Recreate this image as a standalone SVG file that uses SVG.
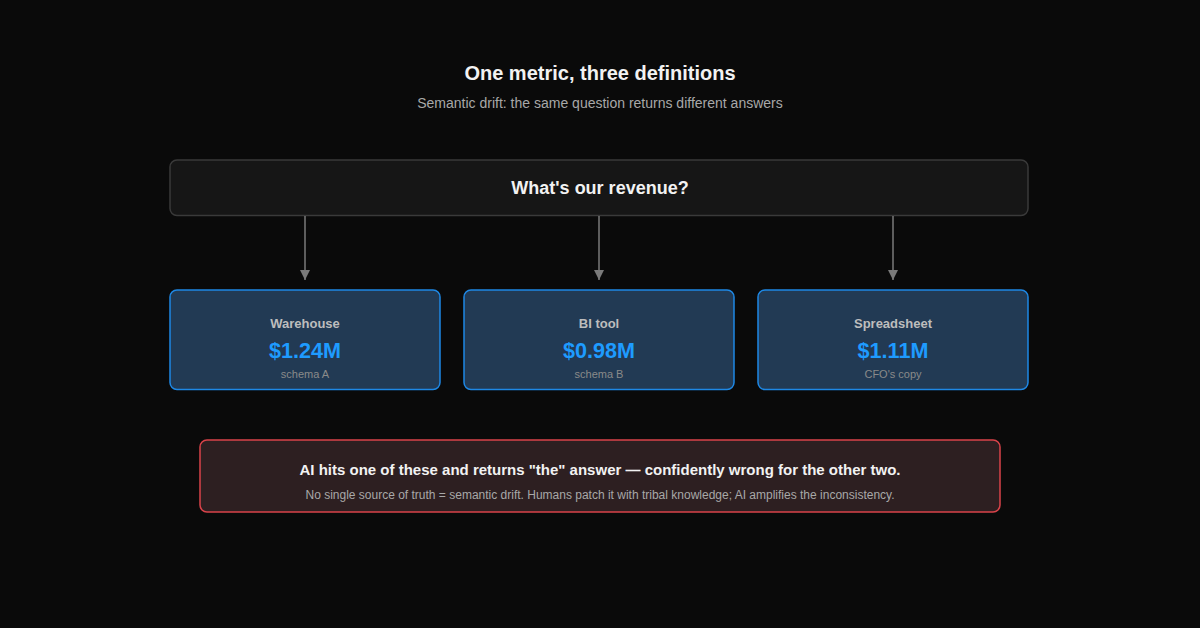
<svg xmlns="http://www.w3.org/2000/svg" width="1200" height="628" viewBox="0 0 1200 628">
<defs>
<marker id="arr" viewBox="0 0 10 10" refX="10" refY="5" markerWidth="10" markerHeight="10" markerUnits="userSpaceOnUse" orient="auto">
<path d="M0,0 L10,5 L0,10 z" fill="#7a7a7a"/>
</marker>
<style>
text{font-family:"Liberation Sans",Arial,sans-serif;text-anchor:middle}
.title{font-size:20px;font-weight:bold;fill:#f2f2f2}
.sub{font-size:14px;fill:#a8a8a8}
.q{font-size:18px;font-weight:bold;fill:#f2f2f2}
.card rect{fill:#223a54;stroke:#1e88e5;stroke-width:1.5}
.lbl{font-size:13px;font-weight:bold;fill:#bdbdbd}
.val{font-size:21.6px;font-weight:bold;fill:#1e9bff}
.sch{font-size:11px;fill:#8a8a8a}
.conn line{stroke:#7a7a7a;stroke-width:1.5}
</style>
</defs>
<rect width="1200" height="628" fill="#0a0a0a"/>
<text class="title" x="600" y="80">One metric, three definitions</text>
<text class="sub" x="600" y="108">Semantic drift: the same question returns different answers</text>
<g id="question">
<rect x="170" y="160" width="858" height="55.5" rx="7" fill="#161616" stroke="#3a3a3a" stroke-width="1.5"/>
<text class="q" x="600" y="194">What's our revenue?</text>
</g>
<g id="connectors" class="conn">
<line x1="305" y1="216" x2="305" y2="280" marker-end="url(#arr)"/>
<line x1="599" y1="216" x2="599" y2="280" marker-end="url(#arr)"/>
<line x1="893" y1="216" x2="893" y2="280" marker-end="url(#arr)"/>
</g>
<g id="warehouse" class="card">
<rect x="170" y="290" width="270" height="99.5" rx="7"/>
<text class="lbl" x="305" y="328">Warehouse</text>
<text class="val" x="305" y="358">$1.24M</text>
<text class="sch" x="305" y="378">schema A</text>
</g>
<g id="bitool" class="card">
<rect x="464" y="290" width="270" height="99.5" rx="7"/>
<text class="lbl" x="599" y="328">BI tool</text>
<text class="val" x="599" y="358">$0.98M</text>
<text class="sch" x="599" y="378">schema B</text>
</g>
<g id="spreadsheet" class="card">
<rect x="758" y="290" width="270" height="99.5" rx="7"/>
<text class="lbl" x="893" y="328">Spreadsheet</text>
<text class="val" x="893" y="358">$1.11M</text>
<text class="sch" x="893" y="378">CFO's copy</text>
</g>
<g id="warning">
<rect x="200" y="440" width="800" height="72" rx="7" fill="#2d1f21" stroke="#d9434a" stroke-width="1.5"/>
<text x="600" y="475" style="font-size:15px;font-weight:bold;fill:#f2f2f2">AI hits one of these and returns "the" answer — confidently wrong for the other two.</text>
<text x="600" y="499" style="font-size:12px;fill:#a8a8a8">No single source of truth = semantic drift. Humans patch it with tribal knowledge; AI amplifies the inconsistency.</text>
</g>
</svg>
